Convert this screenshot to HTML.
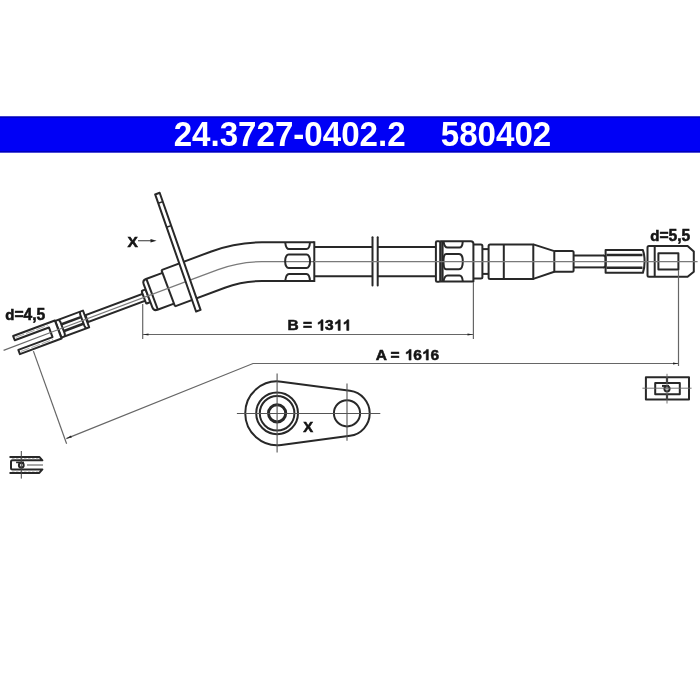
<!DOCTYPE html>
<html><head><meta charset="utf-8">
<style>
html,body{margin:0;padding:0;background:#fff;}
body{width:700px;height:700px;overflow:hidden;position:relative;font-family:"Liberation Sans",sans-serif;}
svg{position:absolute;left:0;top:0;will-change:transform;}
.o{fill:none;stroke:#282828;stroke-width:2;stroke-linejoin:round;}
.c{fill:none;stroke:#7a7a7a;stroke-width:1.3;}
.d{fill:none;stroke:#666;stroke-width:1.2;}
.t{font-family:"Liberation Sans",sans-serif;font-weight:bold;fill:#141414;stroke:#141414;stroke-width:0.55;}
</style></head><body>
<svg width="700" height="700" viewBox="0 0 700 700">
<rect x="0" y="0" width="700" height="700" fill="#fff"/>
<!-- blue title bar -->
<rect x="0" y="116.5" width="700" height="36" fill="#0000f6"/>
<rect x="0" y="116.5" width="700" height="1.2" fill="#0000a8"/>
<rect x="0" y="151.2" width="700" height="1.2" fill="#0000a8"/>
<g transform="translate(173.7 0) scale(0.96 1) translate(-173.7 0)"><text x="173.7" y="145.6" class="t" font-size="34.5" style="fill:#fff;stroke:none">24.3727-0402.2</text></g>
<g transform="translate(440.8 0) scale(0.96 1) translate(-440.8 0)"><text x="440.8" y="145.6" class="t" font-size="34.5" style="fill:#fff;stroke:none">580402</text></g>

<!-- sheath (curved) -->
<path class="o" d="M168.2 288.2 L218.1 269.57 A125 125 0 0 1 261.9 261.65 L314.3 261.65" style="stroke-width:40.7;stroke-linejoin:miter"/>
<path class="o" d="M168.2 288.2 L218.1 269.57 A125 125 0 0 1 261.9 261.65 L314.3 261.65" style="stroke:#fff;stroke-width:36.7;stroke-linejoin:miter"/>
<path class="c" d="M187.9 280.85 L218.1 269.57 A125 125 0 0 1 261.9 261.65 L314.3 261.65"/>
<g class="o">
<!-- sheath end cap -->
<line x1="314.3" y1="241.3" x2="314.3" y2="282"/>
<!-- grips on sheath end -->
<path d="M285.2 242.3 Q286 249.1 289 249.1 L306.5 249.1 Q309.5 249.1 310 242.3"/>
<path d="M285.2 281 Q286 273.9 289 273.9 L306.5 273.9 Q309.5 273.9 310 281"/>
<rect x="285.2" y="254.6" width="24.8" height="13.4" rx="3.5" ry="6"/>
<!-- tube after sheath -->
<line x1="314.3" y1="246.9" x2="372.4" y2="246.9"/>
<line x1="314.3" y1="276.2" x2="372.4" y2="276.2"/>
<line x1="377.6" y1="246.9" x2="436" y2="246.9"/>
<line x1="377.6" y1="276.2" x2="436" y2="276.2"/>
<line x1="372.5" y1="237.2" x2="372.5" y2="285.6" style="stroke-linecap:round"/>
<line x1="377.7" y1="237.2" x2="377.7" y2="285.6" style="stroke-linecap:round"/>
<!-- second ferrule -->
<rect x="435.9" y="241.3" width="4.3" height="40.4" rx="1.2"/>
<line x1="442.4" y1="241.3" x2="442.4" y2="281.5" style="stroke-width:2.4"/>
<path d="M440.2 241.3 L470.9 241.3 Q473.4 241.3 473.4 243.8 L473.4 281.5 L440.2 281.5"/>
<path d="M443.5 241.3 Q444.5 247.6 447.5 247.6 L459.5 247.6 Q462.3 247.6 462.8 241.3"/>
<path d="M443.5 281.3 Q444.5 275.5 447.5 275.5 L459.5 275.5 Q462.3 275.5 462.8 281.3"/>
<path d="M446 253.9 L459 253.9 Q462.8 253.9 462.8 261.5 Q462.8 269.2 459 269.2 L446 269.2 Q443.5 269.2 443.5 261.5 Q443.5 253.9 446 253.9 Z"/>
<!-- step, neck, cylinder, taper -->
<path d="M473.3 244.4 L480.9 244.4 Q482.4 244.4 482.4 245.9 L482.4 277.1 Q482.4 278.6 480.9 278.6 L473.3 278.6"/>
<line x1="482.4" y1="249.1" x2="488.6" y2="249.1"/>
<line x1="482.4" y1="273.9" x2="488.6" y2="273.9"/>
<path d="M533.3 244.4 L490.1 244.4 Q488.6 244.4 488.6 245.9 L488.6 277.4 Q488.6 278.9 490.1 278.9 L533.3 278.9 Z"/>
<line x1="503.8" y1="244.4" x2="503.8" y2="278.9"/>
<path d="M533.3 244.4 L554.3 251.1 L554.3 271.8 L533.3 278.9"/>
<path d="M554.3 251.1 L572.1 251.1 Q573.6 251.1 573.6 252.6 L573.6 270.3 Q573.6 271.8 572.1 271.8 L554.3 271.8"/>
<!-- thin cable -->
<line x1="573.6" y1="255.5" x2="604" y2="255.5"/>
<line x1="573.6" y1="267.4" x2="604" y2="267.4"/>
<path d="M603.6 255.5 Q605.6 255.5 605.6 258 L605.6 265 Q605.6 267.4 603.6 267.4"/>
<!-- right crimp -->
<path d="M605.6 250.1 L642.9 250.1 Q644.6 255 644.6 261.5 Q644.6 268 642.9 272.8 L605.6 272.8 Z"/>
<line x1="606.5" y1="255" x2="642.5" y2="255" style="stroke-width:2.6"/>
<line x1="606.5" y1="267.8" x2="642.5" y2="267.8" style="stroke-width:2.6"/>
<!-- end fitting -->
<path d="M649 246 L687.6 246 L693.8 251.6 L693.8 271.7 L687.6 276.8 L649 276.8 Q647.5 276.8 647.5 275.3 L647.5 247.5 Q647.5 246 649 246 Z"/>
<line x1="654.7" y1="246" x2="654.7" y2="276.8"/>
<rect x="658.4" y="253.3" width="20" height="16.3"/>
</g>
<!-- centerline right -->
<line class="c" x1="314" y1="261.7" x2="697.6" y2="261.7"/>

<!-- left rotated assembly -->
<g transform="translate(187.9 280.85) rotate(-20.5)" class="o">
  <rect x="-138.3" y="-8.9" width="29.6" height="17.8" style="fill:#fff"/>
  <path d="M-134.5 -8.9 L-133.8 -6 L-133.8 6 L-134.5 8.9"/>
  <path d="M-112 -8.9 L-112.7 -6 L-112.7 6 L-112 8.9"/>
  <line x1="-133.5" y1="-3.5" x2="-113" y2="-3.5" style="stroke-width:2.6"/>
  <line x1="-133.5" y1="3.6" x2="-113" y2="3.6" style="stroke-width:2.6"/>
  <path d="M-138.5 -9.5 L-183 -9.5 L-183 -5 L-146.5 -5 L-146.5 5.3 L-183 5.3 L-183 9.8 L-138.5 9.8 Z" style="fill:#fff"/>
  <rect x="-108" y="-3.7" width="61.5" height="7.4" style="fill:#fff"/>
  <rect x="-47" y="-6.8" width="4.4" height="13.6" rx="1.2" style="fill:#fff"/>
  <path d="M-21 -16.4 L-38.6 -16.4 Q-42.6 -16.4 -42.6 -12.4 L-42.6 12.4 Q-42.6 16.4 -38.6 16.4 L-21 16.4" style="fill:#fff"/>
  <line x1="-38.2" y1="-16.4" x2="-38.2" y2="16.4"/>
  <line x1="-21" y1="-19.35" x2="-21" y2="19.35"/>
  <line class="c" x1="-197" y1="0.6" x2="-146" y2="0.3" style="stroke:#6a6a6a;stroke-width:1.2"/>
  <line class="c" x1="-146" y1="0.3" x2="0" y2="0" style="stroke:#7a7a7a;stroke-width:1.3"/>
  <g style="stroke:#999;stroke-width:0.8;stroke-dasharray:9 2">
  <line x1="-181" y1="-7.35" x2="-147" y2="-7.35"/>
  <line x1="-181" y1="7.65" x2="-147" y2="7.65"/>
  </g>
  <path d="M-0.4 -92.4 L4.4 -92.4 L1.7 31.6 L-3.1 31.6 Z" style="fill:#fff"/>
  <line x1="-0.6" y1="-83" x2="4.2" y2="-83" style="stroke-width:1.5"/>
  <line x1="-1.2" y1="-57.6" x2="3.6" y2="-57.6" style="stroke-width:1.5"/>
</g>

<!-- labels -->
<text x="5.2" y="319.6" class="t" font-size="14.9">d</text><text x="14.4" y="319.6" class="t" font-size="15.6">=4,5</text>
<text x="650.2" y="241.1" class="t" font-size="14.9">d</text><text x="659.4" y="241.1" class="t" font-size="15.6">=5,5</text>
<text x="127.5" y="247.2" class="t" font-size="15.5">X</text>
<text x="287.60" y="330.4" class="t" font-size="15.5">B = </text>
<path class="t" transform="translate(316.46 330.4) scale(0.007568 -0.007266)" d="M865 0L584 0L584 1056C481 960 360 889 221 843L221 1098C294 1122 373 1167 459 1234C545 1301 604 1378 636 1466L865 1466Z" style="stroke-width:72.7"/>
<text x="325.08" y="330.4" class="t" font-size="15.5">3</text>
<path class="t" transform="translate(333.70 330.4) scale(0.007568 -0.007266)" d="M865 0L584 0L584 1056C481 960 360 889 221 843L221 1098C294 1122 373 1167 459 1234C545 1301 604 1378 636 1466L865 1466Z" style="stroke-width:72.7"/>
<path class="t" transform="translate(342.31 330.4) scale(0.007568 -0.007266)" d="M865 0L584 0L584 1056C481 960 360 889 221 843L221 1098C294 1122 373 1167 459 1234C545 1301 604 1378 636 1466L865 1466Z" style="stroke-width:72.7"/>
<text x="375.70" y="360.1" class="t" font-size="15.5">A = </text>
<path class="t" transform="translate(404.56 360.1) scale(0.007568 -0.007266)" d="M865 0L584 0L584 1056C481 960 360 889 221 843L221 1098C294 1122 373 1167 459 1234C545 1301 604 1378 636 1466L865 1466Z" style="stroke-width:72.7"/>
<text x="413.18" y="360.1" class="t" font-size="15.5">6</text>
<path class="t" transform="translate(421.80 360.1) scale(0.007568 -0.007266)" d="M865 0L584 0L584 1056C481 960 360 889 221 843L221 1098C294 1122 373 1167 459 1234C545 1301 604 1378 636 1466L865 1466Z" style="stroke-width:72.7"/>
<text x="430.41" y="360.1" class="t" font-size="15.5">6</text>
<text x="303.2" y="432.2" class="t" font-size="14.8">X</text>
<!-- X arrow -->
<line class="d" x1="138" y1="240.7" x2="152" y2="240.7" style="stroke:#555"/>
<path d="M156.6 240.7 L150.5 239 L150.5 242.4 Z" fill="#222"/>

<!-- dimension lines -->
<g class="d">
<line x1="142.7" y1="304" x2="142.7" y2="339"/>
<line x1="473.4" y1="282" x2="473.4" y2="339"/>
<line x1="142.7" y1="334.5" x2="473.4" y2="334.5"/>
<line x1="33.4" y1="351.1" x2="66.6" y2="443.7"/>
<polyline points="66.3,438.6 253,363.5 678.5,363.5"/>
<line x1="678.5" y1="270" x2="678.5" y2="366"/>
</g>
<g fill="#222">
<path d="M143.1 334.5 L148.5 333.4 L148.5 335.6 Z"/>
<path d="M473 334.5 L467.5 333.4 L467.5 335.6 Z"/>
<path d="M678.5 363.5 L673 362.4 L673 364.6 Z"/>
<path d="M66.3 438.6 L71.0 435.5 L71.8 437.6 Z"/>
</g>

<!-- eye plate X view -->
<g class="o">
<path d="M281.28 381.67 L349.98 390.75 A22.75 22.75 0 0 1 349.98 435.85 L281.28 444.93 A31.9 31.9 0 1 1 281.28 381.67 Z"/>
<circle cx="347" cy="413.3" r="13.1"/>
<circle cx="277.1" cy="413.3" r="20.9"/>
<circle cx="277.1" cy="413.3" r="17.3"/>
<circle cx="277.1" cy="413.3" r="8.6" style="stroke-width:3"/>
</g>
<g class="c" style="stroke:#555;stroke-width:1.1">
<line x1="236.9" y1="413.5" x2="380.3" y2="413.5"/>
<line x1="277.1" y1="373.5" x2="277.1" y2="452.5"/>
<line x1="347" y1="383.6" x2="347" y2="440.7"/>
</g>

<!-- right end view -->
<g class="o" style="stroke-width:2">
<rect x="645.9" y="377.3" width="43.1" height="22.2"/>
<rect x="655.2" y="383.1" width="24.6" height="11.1"/>
<line x1="667" y1="377" x2="667" y2="383" style="stroke-width:2.2"/>
<line x1="667" y1="394.5" x2="667" y2="400" style="stroke-width:2.2"/>
<path d="M662 385.9 L669 385.9"/>
<circle cx="667" cy="388.8" r="2.6"/>
</g>
<g class="c" style="stroke:#666;stroke-width:0.9">
<line x1="642.4" y1="388.2" x2="691.6" y2="388.2"/>
<line x1="667" y1="373.8" x2="667" y2="403.5"/>
</g>

<!-- left end view -->
<g class="o" style="stroke-width:2">
<path d="M9.5 456.9 L39.3 456.9 L42.4 460.3 L12.5 460.3 Q11 460.3 11 461.8 L11 467.9 Q11 469.4 12.5 469.4 L42.4 469.4 L39.3 472.9 L9.5 472.9"/>
<circle cx="21.3" cy="465.2" r="2.4"/>
<line x1="16.1" y1="462.4" x2="24" y2="462.4" style="stroke-width:1.6"/>
</g>
<g style="stroke:#aaa;stroke-width:0.9;stroke-dasharray:2.5 1.5">
<line x1="12" y1="458.7" x2="40" y2="458.7"/>
<line x1="12" y1="471.1" x2="40" y2="471.1"/>
</g>
<g class="c" style="stroke:#444;stroke-width:1">
<line x1="21.3" y1="451" x2="21.3" y2="478.6"/>
</g>
<line class="c" x1="27" y1="465" x2="43" y2="465" style="stroke:#777"/>
</svg>
</body></html>
